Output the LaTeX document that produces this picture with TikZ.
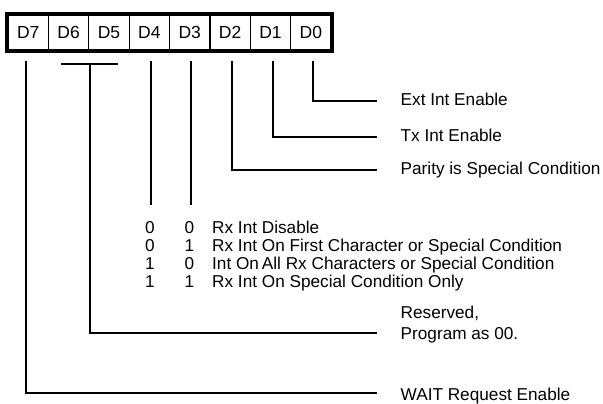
\documentclass[tikz,border=0pt]{standalone}
\usepackage{fontspec}
\setmainfont{Liberation Sans}
\usetikzlibrary{calc}
\begin{document}
\begin{tikzpicture}[x=1pt,y=-1pt,
  cell/.style={minimum width=40.4pt, minimum height=35pt, inner sep=0pt, draw, line width=1.2pt, font=\fontsize{17.5}{20}\selectfont},
  conn/.style={line width=2pt},
  lbl/.style={anchor=base west, inner sep=0pt, font=\fontsize{17.2}{21}\selectfont},
  lbl2/.style={anchor=base west, inner sep=0pt, align=left, font=\fontsize{17.2}{21}\selectfont},
  dig/.style={anchor=base, inner sep=0pt, font=\fontsize{17.2}{21}\selectfont}]
\useasboundingbox (0,0) rectangle (603,404);
% register cells
\node[cell] (d7) at (28.2,32.5) {D7};
\node[cell] (d6) at (68.6,32.5) {D6};
\node[cell] (d5) at (109.0,32.5) {D5};
\node[cell] (d4) at (149.3,32.5) {D4};
\node[cell] (d3) at (189.7,32.5) {D3};
\node[cell] (d2) at (230.1,32.5) {D2};
\node[cell] (d1) at (270.5,32.5) {D1};
\node[cell] (d0) at (310.8,32.5) {D0};
\draw[line width=4pt] (d7.north west) rectangle (d0.south east);
% labels
\node[lbl] (ext) at (400.5,106) {Ext Int Enable};
\node[lbl] (tx) at (400.5,142) {Tx Int Enable};
\node[lbl] (par) at (400.5,175) {Parity is Special Condition};
\node[lbl2] (res) at (400.5,339) {Reserved,\\[0pt]Program as 00.};
\node[lbl] (wait) at (400.5,400) {WAIT Request Enable};
% table
\node[dig] (a1) at (150,233.3) {0}; \node[dig] (b1) at (189.5,233.3) {0};
\node[lbl] (t1) at (212,233.3) {Rx Int Disable};
\node[dig] (a2) at (150,251.4) {0}; \node[dig] (b2) at (189.5,251.4) {1};
\node[lbl] (t2) at (212,251.4) {Rx Int On First Character or Special Condition};
\node[dig] (a3) at (150,269.5) {1}; \node[dig] (b3) at (189.5,269.5) {0};
\node[lbl] (t3) at (212,269.5) {Int On\,All Rx Characters or Special Condition};
\node[dig] (a4) at (150,287.7) {1}; \node[dig] (b4) at (189.5,287.7) {1};
\node[lbl] (t4) at (212,287.7) {Rx Int On Special Condition Only};
% connector ends
\coordinate (e0) at (377,101);
\coordinate (e1) at (377,137);
\coordinate (e2) at (377,170);
\coordinate (e5) at (377,333);
\coordinate (e7) at (377,393);
\draw[conn] ([xshift=2.2pt,yshift=-10pt]d0.south) |- (e0);
\draw[conn] ([xshift=2.5pt,yshift=-10pt]d1.south) |- (e1);
\draw[conn] ([xshift=1.9pt,yshift=-10pt]d2.south) |- (e2);
\coordinate (f3) at ([xshift=1.3pt,yshift=-154pt]d3.south);
\coordinate (f4) at ([xshift=1.7pt,yshift=-154pt]d4.south);
\draw[conn] ([xshift=1.3pt,yshift=-10pt]d3.south) -- (f3);
\draw[conn] ([xshift=1.7pt,yshift=-10pt]d4.south) -- (f4);
\coordinate (bl) at ([xshift=-7.6pt,yshift=-13pt]d6.south);
\coordinate (br) at ([xshift=9pt,yshift=-13pt]d5.south);
\draw[conn] (bl) -- (br);
\draw[conn] ($(bl)!0.5!(br)$) |- (e5);
\draw[conn] ([xshift=-2.2pt,yshift=-10pt]d7.south) |- (e7);
\end{tikzpicture}
\end{document}
